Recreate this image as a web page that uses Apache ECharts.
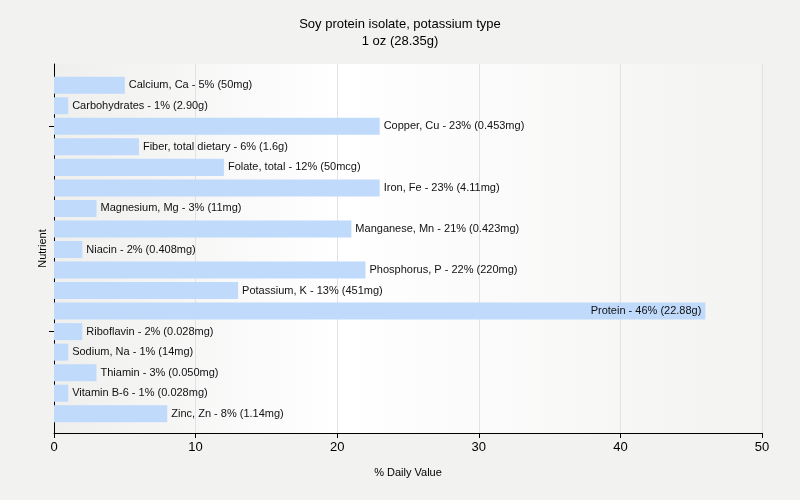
<!DOCTYPE html>
<html>
<head>
<meta charset="utf-8">
<script src="https://cdn.jsdelivr.net/npm/echarts@6/dist/echarts.min.js"></script>
<style>
  html, body { margin: 0; padding: 0; background: #f2f2f1; }
  #main { width: 800px; height: 500px; }
</style>
</head>
<body>
<div id="main"></div>
<script>
const nutrients = ['Calcium, Ca', 'Carbohydrates', 'Copper, Cu', 'Fiber, total dietary', 'Folate, total',
  'Iron, Fe', 'Magnesium, Mg', 'Manganese, Mn', 'Niacin', 'Phosphorus, P', 'Potassium, K', 'Protein',
  'Riboflavin', 'Sodium, Na', 'Thiamin', 'Vitamin B-6', 'Zinc, Zn'];
const dailyValues = [5, 1, 23, 6, 12, 23, 3, 21, 2, 22, 13, 46, 2, 1, 3, 1, 8];
const amounts = ['50mg', '2.90g', '0.453mg', '1.6g', '50mcg', '4.11mg', '11mg', '0.423mg', '0.408mg',
  '220mg', '451mg', '22.88g', '0.028mg', '14mg', '0.050mg', '0.028mg', '1.14mg'];
const xTicks = [0, 10, 20, 30, 40, 50];

const font = '"Liberation Sans", Arial, sans-serif';

const chart = echarts.init(document.getElementById('main'));
const option = {
  backgroundColor: '#f2f2f1',
  title: {
    text: 'Soy protein isolate, potassium type\n1 oz (28.35g)',
    left: 'center',
    top: 11,
    textStyle: { fontSize: 13, fontWeight: 'normal', color: '#000', fontFamily: font, lineHeight: 17 }
  },
  grid: [{
    // frame: axes, split lines, background
    left: 54, right: 38, top: 64, bottom: 67,
    show: true,
    borderWidth: 0,
    backgroundColor: new echarts.graphic.LinearGradient(0, 0, 1, 0, [
      { offset: 0, color: '#efefee' },
      { offset: 0.4, color: '#ffffff' },
      { offset: 1, color: '#f3f3f2' }
    ])
  }, {
    // bars, inset a bit from top and bottom
    left: 54, right: 38, top: 75, bottom: 76
  }],
  xAxis: [{
    type: 'value',
    gridIndex: 0,
    min: 0, max: 50, interval: 10,
    name: '% Daily Value',
    nameLocation: 'middle',
    nameGap: 34,
    nameTextStyle: { fontSize: 11, color: '#000', fontFamily: font },
    axisLine: { show: true, lineStyle: { color: '#000', width: 1 } },
    axisTick: { show: true, length: 5, lineStyle: { color: '#000' } },
    axisLabel: {
      fontSize: 13, color: '#000', fontFamily: font, margin: 8,
      formatter: v => xTicks.includes(v) ? String(v) : ''
    },
    splitLine: { show: true, lineStyle: { color: '#e2e2e2', width: 1 } }
  }, {
    type: 'value',
    gridIndex: 1,
    min: 0, max: 50, interval: 10,
    show: false
  }],
  yAxis: [{
    type: 'value',
    gridIndex: 0,
    min: 0, max: 1,
    name: 'Nutrient',
    nameLocation: 'middle',
    nameGap: 6,
    nameTextStyle: { fontSize: 11, color: '#000', fontFamily: font },
    axisLine: { show: true, lineStyle: { color: '#000', width: 1 } },
    axisTick: { show: false },
    axisLabel: { show: false },
    splitLine: { show: false }
  }, {
    type: 'category',
    gridIndex: 1,
    data: nutrients,
    inverse: true,
    axisLine: { show: false },
    axisTick: {
      show: true, length: 5, alignWithLabel: true,
      interval: i => i === 2 || i === 12,
      lineStyle: { color: '#000' }
    },
    axisLabel: { show: false },
    splitLine: { show: false }
  }],
  series: [{
    type: 'bar',
    xAxisIndex: 1,
    yAxisIndex: 1,
    data: dailyValues.map(v => ({
      value: v,
      label: v > 40 ? { position: 'insideRight', distance: 4 } : {}
    })),
    barCategoryGap: '17%',
    itemStyle: { color: '#c0dafc' },
    label: {
      show: true,
      position: 'right',
      distance: 4,
      fontSize: 11,
      color: '#111',
      fontFamily: font,
      formatter: p => nutrients[p.dataIndex] + ' - ' + dailyValues[p.dataIndex] + '% (' + amounts[p.dataIndex] + ')'
    },
    silent: true
  }]
};
chart.setOption(option);
</script>
</body>
</html>
